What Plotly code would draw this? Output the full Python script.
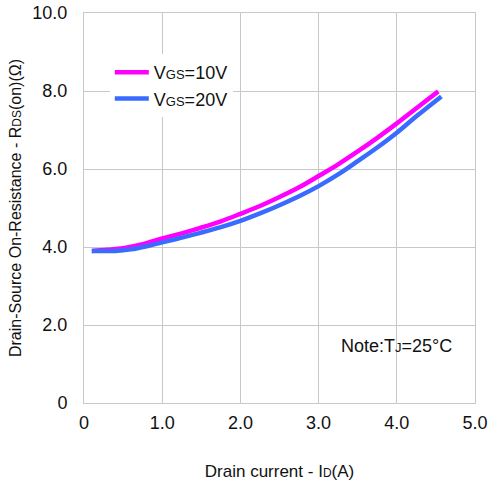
import plotly.graph_objects as go

# VGS = 10 V
x10 = [0.1, 0.3, 0.5, 0.75, 1.0, 1.25, 1.5, 1.75, 2.0, 2.25, 2.5, 2.75, 3.0, 3.25, 3.5, 3.75, 4.0, 4.25, 4.53]
y10 = [3.9, 3.93, 3.97, 4.07, 4.22, 4.35, 4.5, 4.66, 4.85, 5.05, 5.28, 5.53, 5.82, 6.12, 6.45, 6.8, 7.17, 7.56, 7.99]
# VGS = 20 V
x20 = [0.1, 0.4, 0.6, 0.8, 1.0, 1.25, 1.5, 1.75, 2.0, 2.25, 2.5, 2.75, 3.0, 3.25, 3.5, 3.75, 4.0, 4.25, 4.57]
y20 = [3.9, 3.9, 3.94, 4.02, 4.12, 4.24, 4.37, 4.51, 4.67, 4.86, 5.07, 5.3, 5.56, 5.86, 6.2, 6.55, 6.93, 7.35, 7.86]

xticks = [0, 1, 2, 3, 4, 5]
xtick_labels = ["0", "1.0", "2.0", "3.0", "4.0", "5.0"]
yticks = [0, 2, 4, 6, 8, 10]
ytick_labels = ["0", "2.0", "4.0", "6.0", "8.0", "10.0"]

FONT = "Liberation Sans, Arial, sans-serif"
GRID = "#c8c8c8"


def small(t, size=13):
    return "<span style='font-size:%dpx'>%s</span>" % (size, t)


fig = go.Figure()
fig.add_trace(go.Scatter(x=x10, y=y10, mode="lines", line=dict(color="#ff00ff", width=4.5, shape="spline"),
                         name="V" + small("GS") + "=10V"))
fig.add_trace(go.Scatter(x=x20, y=y20, mode="lines", line=dict(color="#3a6bff", width=4.5, shape="spline"),
                         name="V" + small("GS") + "=20V"))

fig.update_layout(
    width=488, height=483,
    margin=dict(l=84, r=13, t=13, b=80),
    paper_bgcolor="white", plot_bgcolor="white",
    font=dict(family=FONT, size=18, color="#111111"),
    showlegend=True,
    legend=dict(x=0.066, y=0.895, xanchor="left", yanchor="top", bgcolor="rgba(255,255,255,1)",
                font=dict(size=18, family=FONT), tracegroupgap=0, itemwidth=34),
    annotations=[dict(x=4.73, y=1.45, xref="x", yref="y", showarrow=False,
                      text="Note:T" + small("J") + "=25°C", font=dict(size=18, family=FONT),
                      xanchor="right", yanchor="middle")],
)
fig.update_xaxes(range=[0, 5], tickvals=xticks, ticktext=xtick_labels, showgrid=True, gridcolor=GRID,
                 showline=True, linecolor=GRID, mirror=True, zeroline=False, ticks="", ticklen=0,
                 ticklabelstandoff=3, automargin=False,
                 tickfont=dict(size=18),
                 title=dict(text="Drain current - I" + small("D", 12) + "(A)",
                            font=dict(size=17), standoff=33))
fig.update_yaxes(range=[0, 10], tickvals=yticks, ticktext=ytick_labels, showgrid=True, gridcolor=GRID,
                 showline=True, linecolor=GRID, mirror=True, zeroline=False, ticks="", ticklen=0,
                 ticklabelstandoff=12, automargin=False,
                 tickfont=dict(size=18),
                 title=dict(text="Drain-Source On-Resistance - R" + small("DS", 12) + "(on)(Ω)",
                            font=dict(size=16), standoff=6))

fig.write_html("out.html", config={"displayModeBar": False},
               post_script="document.body.style.margin='0px';")
